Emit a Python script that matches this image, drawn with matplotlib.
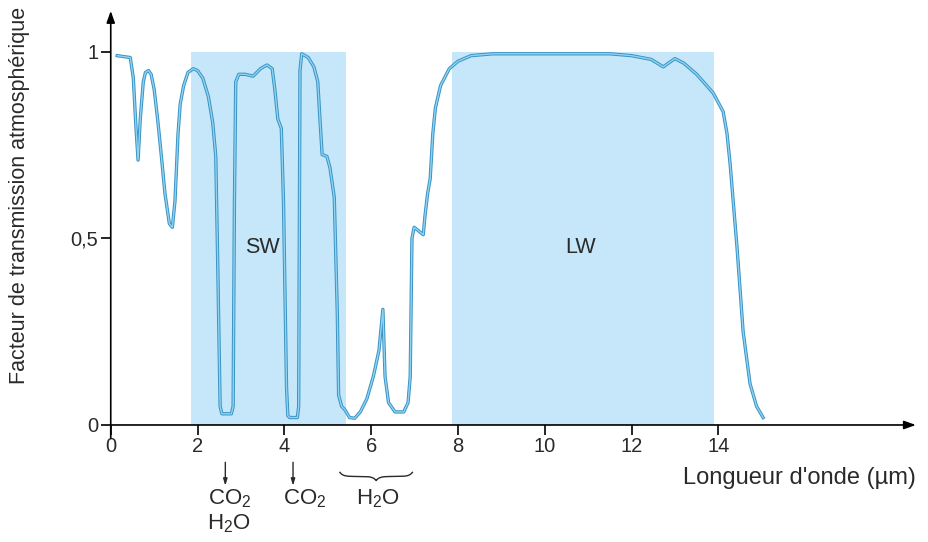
import numpy as np
import matplotlib
matplotlib.use('Agg')
import matplotlib.pyplot as plt
from matplotlib import font_manager

# police principale + police étroite pour le titre de l'axe vertical
matplotlib.rcParams['font.family'] = ['Liberation Sans', 'DejaVu Sans']
matplotlib.rcParams['mathtext.fontset'] = 'custom'
matplotlib.rcParams['mathtext.rm'] = 'Liberation Sans'
matplotlib.rcParams['mathtext.default'] = 'regular'

try:
    font_manager.findfont('Liberation Sans Narrow', fallback_to_default=False)
    narrow = 'Liberation Sans Narrow'
except Exception:
    narrow = 'Liberation Sans'

# longueur d'onde (µm) et facteur de transmission
wavelength = [0.15, 0.45, 0.52, 0.58, 0.63, 0.68, 0.75, 0.80, 0.87, 0.93,
              1.00, 1.08, 1.15, 1.25, 1.35, 1.42, 1.48, 1.55, 1.60, 1.68,
              1.78, 1.90, 2.00, 2.12, 2.25, 2.35, 2.42, 2.47, 2.52, 2.56,
              2.78, 2.82, 2.85, 2.88, 2.95, 3.10, 3.28, 3.45, 3.60, 3.72,
              3.78, 3.85, 3.93, 3.98, 4.05, 4.08, 4.12, 4.30, 4.33, 4.36,
              4.40, 4.55, 4.68, 4.77, 4.82, 4.87, 4.98, 5.05, 5.15, 5.22,
              5.25, 5.32, 5.40, 5.50, 5.62, 5.75, 5.90, 6.05, 6.18, 6.27,
              6.32, 6.40, 6.55, 6.75, 6.85, 6.90, 6.94, 6.99, 7.20, 7.24,
              7.30, 7.36, 7.42, 7.48, 7.60, 7.80, 8.00, 8.30, 8.80, 11.50,
              12.00, 12.45, 12.73, 12.85, 13.00, 13.20, 13.50, 13.88, 14.11, 14.20,
              14.27, 14.43, 14.57, 14.73, 14.88, 15.03]
transmission = [0.99, 0.985, 0.93, 0.80, 0.71, 0.82, 0.92, 0.945, 0.95, 0.94,
                0.90, 0.82, 0.74, 0.62, 0.54, 0.53, 0.60, 0.78, 0.86, 0.91,
                0.945, 0.955, 0.95, 0.93, 0.88, 0.81, 0.72, 0.40, 0.05, 0.03,
                0.03, 0.05, 0.60, 0.92, 0.94, 0.94, 0.935, 0.955, 0.965, 0.955,
                0.90, 0.82, 0.795, 0.60, 0.10, 0.025, 0.02, 0.02, 0.05, 0.95,
                0.995, 0.985, 0.96, 0.92, 0.82, 0.725, 0.72, 0.69, 0.61, 0.30,
                0.08, 0.05, 0.04, 0.02, 0.018, 0.035, 0.07, 0.13, 0.20, 0.31,
                0.13, 0.06, 0.035, 0.035, 0.06, 0.13, 0.50, 0.53, 0.51, 0.56,
                0.62, 0.66, 0.78, 0.85, 0.91, 0.955, 0.975, 0.99, 0.995, 0.995,
                0.99, 0.98, 0.96, 0.97, 0.982, 0.97, 0.94, 0.89, 0.84, 0.78,
                0.70, 0.475, 0.25, 0.11, 0.05, 0.02]

sw_band = (1.85, 5.42)
lw_band = (7.86, 13.90)
x_ticks = [0, 2, 4, 6, 8, 10, 12, 14]
y_ticks = [0, 0.5, 1]
y_tick_labels = ['0', '0,5', '1']

band_color = '#c6e7f9'
text_color = '#2a2a2a'

fig = plt.figure(figsize=(9.29, 5.42), dpi=100)
ax = fig.add_axes([0.1192, 0.2159, 0.869, 0.764])
ax.set_xlim(0, 18.6)
ax.set_ylim(0, 1.11)

for a, b in (sw_band, lw_band):
    ax.fill_between([a, b], 0, 1, color=band_color, linewidth=0, zorder=1)

ax.plot(wavelength, transmission, color='#3a93c4', linewidth=2.4,
        solid_joinstyle='round', zorder=3)
ax.plot(wavelength, transmission, color='#8fd3f2', linewidth=1.0,
        solid_joinstyle='round', zorder=4)

ax.text(np.mean(sw_band) - 0.15, 0.477, 'SW', fontsize=15.5, color=text_color,
        ha='center', va='center', zorder=5)
ax.text(np.mean(lw_band) - 0.05, 0.477, 'LW', fontsize=15.5, color=text_color,
        ha='center', va='center', zorder=5)

# axes avec flèches
for s in ax.spines.values():
    s.set_visible(False)
ax.annotate('', xy=(18.55, 0), xytext=(0, 0), annotation_clip=False,
            arrowprops=dict(arrowstyle='-|>,head_length=0.7,head_width=0.25',
                            color='black', lw=1.2, shrinkA=0, shrinkB=0))
ax.annotate('', xy=(0, 1.11), xytext=(0, -0.035), annotation_clip=False,
            arrowprops=dict(arrowstyle='-|>,head_length=0.7,head_width=0.25',
                            color='black', lw=1.2, shrinkA=0, shrinkB=0))

ax.set_xticks(x_ticks)
ax.set_yticks(y_ticks)
ax.set_yticklabels(y_tick_labels)
ax.tick_params(axis='both', direction='out', length=7, width=1.2,
               labelsize=14.5, labelcolor=text_color, pad=2)

fig.text(0.021, 1 - 195 / 542, 'Facteur de transmission atmosphérique',
         family=narrow, fontsize=15.5, rotation=90, ha='center', va='center',
         color=text_color)

ax.text(18.55, -0.142, "Longueur d'onde (µm)", fontsize=17, color=text_color,
        ha='right', va='center', clip_on=False)

# absorbants sous l'axe
for xa in (2.64, 4.2):
    ax.annotate('', xy=(xa, -0.163), xytext=(xa, -0.1), annotation_clip=False,
                arrowprops=dict(arrowstyle='-|>,head_length=0.4,head_width=0.12',
                                color=text_color, lw=1.0, shrinkA=0, shrinkB=0))
ax.text(2.75, -0.197, 'CO$_2$', fontsize=16, color=text_color,
        ha='center', va='center', clip_on=False)
ax.text(2.72, -0.264, 'H$_2$O', fontsize=16, color=text_color,
        ha='center', va='center', clip_on=False)
ax.text(4.48, -0.197, 'CO$_2$', fontsize=16, color=text_color,
        ha='center', va='center', clip_on=False)
ax.text(6.16, -0.197, 'H$_2$O', fontsize=16, color=text_color,
        ha='center', va='center', clip_on=False)

# accolade sous la bande H2O
x0, x1, yb, h, w = 5.28, 6.95, -0.138, 0.011, 0.07
xc = (x0 + x1) / 2
xl = np.linspace(x0, xc, 100)
yl = yb + h * np.exp(-(xl - x0) / w) - h * np.exp(-(xc - xl) / w)
ax.plot(np.concatenate([xl, 2 * xc - xl[::-1]]), np.concatenate([yl, yl[::-1]]),
        color=text_color, lw=1.0, clip_on=False)

fig.savefig('out.png', dpi=100)
